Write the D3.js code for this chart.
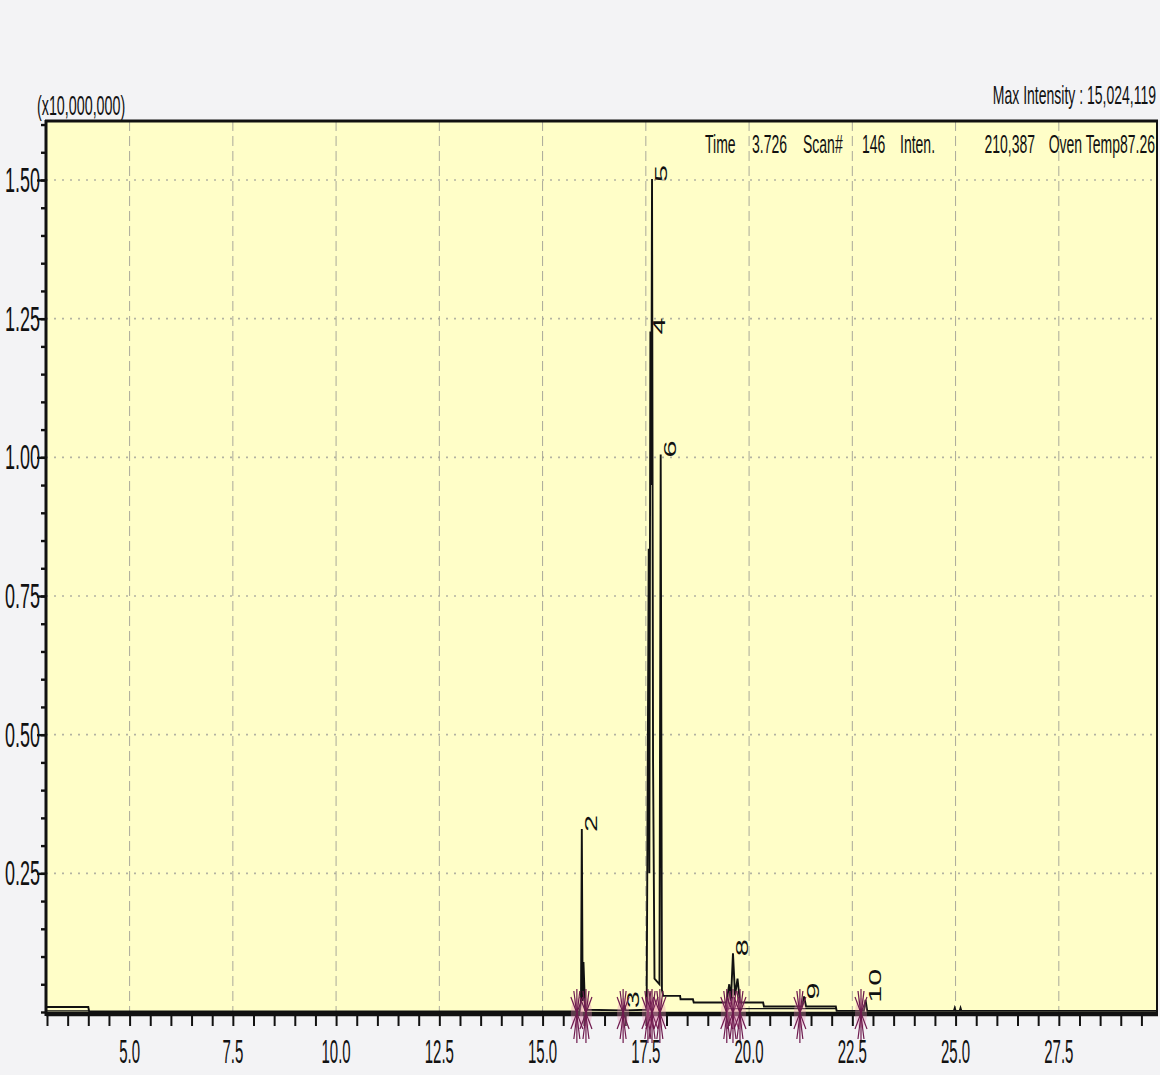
<!DOCTYPE html>
<html>
<head>
<meta charset="utf-8">
<script src="https://cdn.jsdelivr.net/npm/d3@7"></script>
<style>
  body { margin: 0; background: #f3f3f5; }
  svg { display: block; font-family: "Liberation Sans", Arial, sans-serif; }
</style>
</head>
<body>
<svg id="chart" width="1160" height="1075"></svg>
<script>
// chromatogram (TIC), intensity in units of 10,000,000
var ticTime = [3.00, 4.00, 4.02, 15.90, 15.93, 15.95, 15.97, 15.99, 16.03, 16.95, 16.98, 17.01,
  17.52, 17.57, 17.585, 17.61, 17.63, 17.65, 17.675, 17.71, 17.83, 17.86, 17.89, 17.92,
  18.33, 18.34, 18.64, 18.66, 19.45, 19.52, 19.56, 19.61, 19.66, 19.72, 19.78, 20.34, 20.36,
  21.28, 21.33, 21.38, 22.10, 22.12, 22.78, 22.82, 22.86, 24.96, 24.98, 25.00, 25.10, 25.12, 25.14, 29.87];
var ticInt = [0.009, 0.009, 0.001, 0.001, 0.02, 0.33, 0.02, 0.09, 0.004, 0.003, 0.012, 0.003,
  0.004, 0.835, 0.25, 1.227, 0.95, 1.502, 0.45, 0.06, 0.05, 1.005, 0.04, 0.029,
  0.029, 0.023, 0.023, 0.017, 0.017, 0.05, 0.02, 0.106, 0.03, 0.06, 0.017, 0.017, 0.010,
  0.010, 0.028, 0.010, 0.010, 0.002, 0.002, 0.022, 0.002, 0.002, 0.007, 0.002, 0.002, 0.007, 0.002, 0.002];

// second (lower) trace, null = gap
var lowTime = [3.00, 4.00, null, 19.45, 22.12];
var lowInt = [0.002, 0.002, null, 0.006, 0.006];

// labelled peaks
var peakNo = ["2", "3", "4", "5", "6", "8", "9", "10"];
var peakTime = [15.95, 16.98, 17.61, 17.65, 17.86, 19.61, 21.33, 22.82];
var peakInt = [0.33, 0.012, 1.227, 1.502, 1.005, 0.106, 0.028, 0.022];

// peak start / end marks
var markTime = [15.83, 16.05, 16.95, 17.55, 17.65, 17.84, 19.46, 19.61, 19.78, 21.23, 22.71];

var yTicks = [0.25, 0.50, 0.75, 1.00, 1.25, 1.50];
var xTicks = [5.0, 7.5, 10.0, 12.5, 15.0, 17.5, 20.0, 22.5, 25.0, 27.5];
var headItems = ["Time", "3.726", "Scan#", "146", "Inten.", "210,387", "Oven Temp87.26"];

function drawChart() {
  var svg = d3.select("#chart");
  var pLeft = 46, pRight = 1157, pTop = 121, pBottom = 1014;

  var x = d3.scaleLinear().domain([3.0, 29.87]).range([47, 1156.7]);
  var y = d3.scaleLinear().domain([0, 1.5]).range([1012, 180]);

  function label(g, px, py, str, size, sx, sy, anchor, rot) {
    return g.append("text")
      .attr("transform", "translate(" + px + "," + py + ")" + (rot ? " rotate(" + rot + ")" : "") + " scale(" + sx + "," + sy + ")")
      .attr("font-size", size)
      .attr("text-anchor", anchor || "start")
      .attr("fill", "#111")
      .text(str);
  }

  // plot background
  svg.append("rect")
    .attr("x", pLeft).attr("y", pTop)
    .attr("width", pRight - pLeft).attr("height", pBottom - pTop)
    .attr("fill", "#fffec8");

  // grid
  svg.append("g").selectAll("line").data(yTicks).join("line")
    .attr("x1", pLeft).attr("x2", pRight)
    .attr("y1", d => y(d)).attr("y2", d => y(d))
    .attr("stroke", "#b3b3a2").attr("stroke-width", 1.6)
    .attr("stroke-dasharray", "2,6");
  svg.append("g").selectAll("line").data(xTicks).join("line")
    .attr("x1", d => x(d)).attr("x2", d => x(d))
    .attr("y1", pTop).attr("y2", pBottom)
    .attr("stroke", "#aaa99a").attr("stroke-width", 1)
    .attr("stroke-dasharray", "10,5");

  // traces
  var tic = ticTime.map((t, i) => [t, ticInt[i]]);
  var low = lowTime.map((t, i) => [t, lowInt[i]]);
  var line = d3.line()
    .defined(d => d[0] != null)
    .x(d => x(d[0])).y(d => y(d[1]));

  svg.append("path").datum(low)
    .attr("d", line).attr("fill", "none")
    .attr("stroke", "#111").attr("stroke-width", 1.4);
  svg.append("path").datum(tic)
    .attr("d", line).attr("fill", "none")
    .attr("stroke", "#111").attr("stroke-width", 1.9);

  // peak labels, written upward
  peakNo.forEach(function(p, i) {
    label(svg, x(peakTime[i]) + 15, y(peakInt[i]) + 3, p, 17, 1.8, 1, "start", -90);
  });

  // frame and axes
  svg.append("line").attr("x1", pLeft - 1).attr("x2", pRight + 1).attr("y1", pTop).attr("y2", pTop)
    .attr("stroke", "#111").attr("stroke-width", 3);
  svg.append("line").attr("x1", pRight).attr("x2", pRight).attr("y1", pTop).attr("y2", pBottom)
    .attr("stroke", "#111").attr("stroke-width", 2);

  var yMinor = d3.range(0, 33).map(i => i * 0.05);
  var gy = svg.append("g").attr("transform", "translate(" + pLeft + ",0)")
    .call(d3.axisLeft(y).tickValues(yMinor).tickSize(5).tickFormat(""));
  gy.append("g").call(d3.axisLeft(y).tickValues(yTicks).tickSize(9).tickFormat(""));
  gy.selectAll("path.domain").remove();
  gy.selectAll("line").attr("stroke", "#111").attr("stroke-width", 2.4);
  svg.append("line").attr("x1", pLeft).attr("x2", pLeft).attr("y1", pTop - 1).attr("y2", pBottom + 2)
    .attr("stroke", "#111").attr("stroke-width", 3);

  var xMinor = d3.range(0, 54).map(i => 3.0 + i * 0.5);
  var gx = svg.append("g").attr("transform", "translate(0," + pBottom + ")")
    .call(d3.axisBottom(x).tickValues(xMinor).tickSize(12).tickFormat(""));
  gx.selectAll("path.domain").remove();
  gx.selectAll("line").attr("stroke", "#111").attr("stroke-width", 2);
  svg.append("line").attr("x1", pLeft).attr("x2", pRight + 1).attr("y1", pBottom).attr("y2", pBottom)
    .attr("stroke", "#111").attr("stroke-width", 4.5);

  // peak start/end marks
  var gm = svg.append("g");
  markTime.forEach(function(t) {
    var cx = x(t), cy = 1013;
    gm.append("ellipse").attr("cx", cx).attr("cy", cy).attr("rx", 6).attr("ry", 15)
      .attr("fill", "#e58fb4").attr("opacity", 0.35);
    var segs = [[0, -24, 0, 30], [-6, -16, 6, 16], [6, -16, -6, 16], [-3, -22, 3, 26], [3, -22, -3, 26]];
    segs.forEach(function(s) {
      gm.append("line")
        .attr("x1", cx + s[0]).attr("y1", cy + s[1]).attr("x2", cx + s[2]).attr("y2", cy + s[3])
        .attr("stroke", "#6e1a4e").attr("stroke-width", 1.2);
    });
  });

  // tick labels
  yTicks.forEach(function(v) {
    label(svg, 40, y(v) + 12, d3.format(".2f")(v), 18, 1, 1.9, "end");
  });
  xTicks.forEach(function(v) {
    label(svg, x(v), 1063, d3.format(".1f")(v), 15, 1, 2.2, "middle");
  });

  // texts outside / inside the frame
  label(svg, 37, 115, "(x10,000,000)", 14.3, 1, 1.9, "start");
  label(svg, 1156, 104, "Max Intensity : 15,024,119", 14, 1, 1.9, "end");
  var headX = [705, 752, 803, 862, 900, 1035, 1155];
  headItems.forEach(function(s, i) {
    label(svg, headX[i], 153, s, 14, 1, 1.9, i >= 5 ? "end" : "start");
  });
}

drawChart();
</script>
</body>
</html>
